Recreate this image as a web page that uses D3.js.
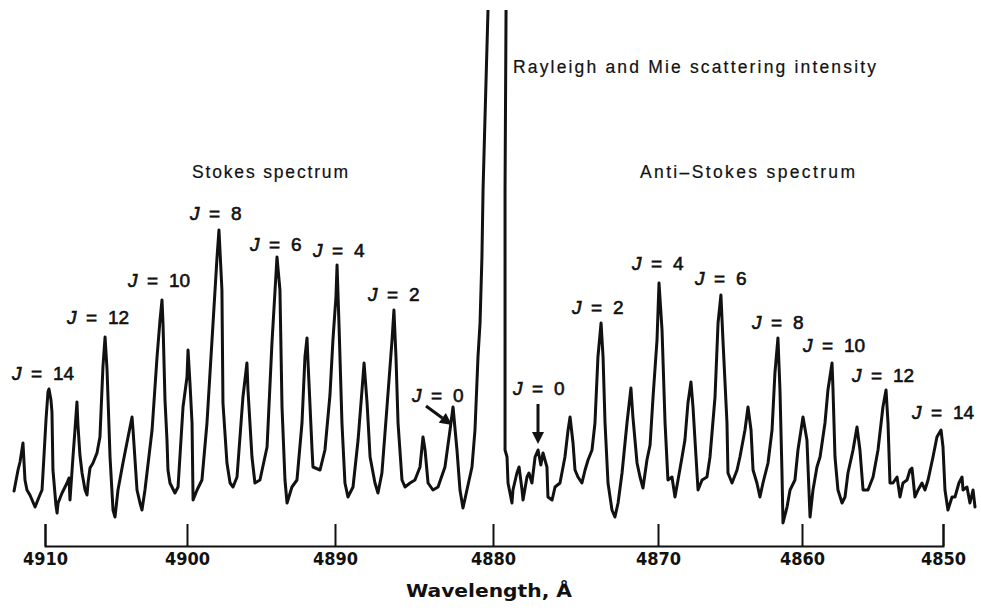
<!DOCTYPE html>
<html>
<head>
<meta charset="utf-8">
<script src="https://cdn.jsdelivr.net/npm/d3@7"></script>
<style>
body { margin: 0; background: #fff; }
svg { display: block; }
.note { font-family: "Liberation Sans", Arial, sans-serif; font-size: 17.5px; fill: #111; stroke: #111; stroke-width: 0.2px; }
.jlab { font-family: "Liberation Sans", Arial, sans-serif; font-size: 19px; fill: #111; stroke: #111; stroke-width: 0.6px; }
.axis text { font-family: "Liberation Sans Narrow", "DejaVu Sans Condensed", sans-serif; font-weight: bold; font-size: 18px; fill: #111; }
.axis path, .axis line { stroke: #111; stroke-width: 2px; }
</style>
</head>
<body>
<svg id="chart" width="981" height="610"></svg>
<script>
'use strict';

// tick wavelengths (Angstrom) on the recorder chart
var tickWavelengths = [4910, 4900, 4890, 4880, 4870, 4860, 4850];

// trace: wavelength (A) and relative intensity
var wavelength = [
    4912.18, 4911.90, 4911.76, 4911.55, 4911.41, 4911.27, 4911.06, 4910.85, 4910.70, 4910.42,
    4910.21, 4910.14, 4909.93, 4909.79, 4909.72, 4909.58, 4909.51, 4909.44, 4909.23, 4909.15,
    4909.08, 4908.80, 4908.45, 4908.31, 4908.24, 4908.03, 4907.89, 4907.75, 4907.68, 4907.54,
    4907.39, 4907.18, 4907.04, 4906.97, 4906.83, 4906.62, 4906.34, 4906.13, 4905.92, 4905.77,
    4905.63, 4905.42, 4905.21, 4905.07, 4904.86, 4904.51, 4904.15, 4903.87, 4903.80, 4903.52,
    4903.31, 4903.17, 4902.96, 4902.46, 4902.11, 4901.90, 4901.76, 4901.69, 4901.55, 4901.41,
    4901.34, 4901.20, 4900.85, 4900.63, 4900.28, 4900.00, 4899.93, 4899.80, 4899.66, 4899.59,
    4899.32, 4898.99, 4898.65, 4898.24, 4897.97, 4897.84, 4897.64, 4897.57, 4897.30, 4897.09,
    4896.89, 4896.62, 4896.22, 4895.95, 4895.88, 4895.61, 4895.41, 4895.07, 4894.59, 4894.26,
    4894.05, 4893.92, 4893.72, 4893.58, 4893.38, 4893.24, 4892.91, 4892.57, 4892.23, 4892.03,
    4891.89, 4891.82, 4891.55, 4891.49, 4891.01, 4890.68, 4890.34, 4890.14, 4889.94, 4889.87,
    4889.75, 4889.56, 4889.37, 4889.18, 4888.86, 4888.54, 4888.29, 4888.16, 4887.97, 4887.78,
    4887.47, 4887.28, 4887.03, 4886.71, 4886.39, 4886.27, 4886.14, 4886.01, 4885.76, 4885.57,
    4885.25, 4884.94, 4884.62, 4884.43, 4884.30, 4884.11, 4883.80, 4883.48, 4883.04, 4882.72,
    4882.53, 4882.28, 4882.09, 4881.90, 4881.65, 4881.33, 4881.14, 4880.95, 4880.82, 4880.70,
    4880.63, 4880.51, 4880.32, 4880.19,
    4879.21, 4879.21, 4879.27, 4879.27, 4879.15, 4879.09, 4878.85, 4878.79, 4878.55, 4878.42,
    4878.24, 4878.18, 4877.94, 4877.82, 4877.64, 4877.45, 4877.27, 4877.10, 4876.97, 4876.73,
    4876.67, 4876.42, 4876.24, 4875.94, 4875.64, 4875.45, 4875.33, 4875.15, 4875.03, 4874.85,
    4874.61, 4874.42, 4874.24, 4874.00, 4873.82, 4873.64, 4873.45, 4873.33, 4873.21, 4873.03,
    4872.79, 4872.61, 4872.42, 4872.18, 4871.88, 4871.64, 4871.52, 4871.27, 4871.09, 4870.91,
    4870.67, 4870.48, 4870.30, 4870.06, 4869.93, 4869.72, 4869.51, 4869.31, 4869.03, 4868.82,
    4868.61, 4868.33, 4868.13, 4867.92, 4867.71, 4867.57, 4867.36, 4867.22, 4866.94, 4866.60,
    4866.39, 4866.04, 4865.83, 4865.63, 4865.49, 4865.21, 4865.14, 4864.86, 4864.51, 4864.31,
    4863.96, 4863.75, 4863.54, 4863.40, 4863.13, 4862.92, 4862.71, 4862.36, 4862.08, 4861.88,
    4861.67, 4861.53, 4861.39, 4861.32, 4861.04, 4860.83, 4860.49, 4860.28, 4859.93, 4859.65,
    4859.43, 4859.22, 4858.94, 4858.72, 4858.37, 4858.16, 4857.87, 4857.80, 4857.66, 4857.45,
    4857.16, 4856.95, 4856.74, 4856.38, 4856.10, 4855.89, 4855.67, 4855.32, 4854.96, 4854.61,
    4854.26, 4854.04, 4853.90, 4853.76, 4853.55, 4853.26, 4853.05, 4852.84, 4852.55, 4852.34,
    4852.20, 4851.99, 4851.77, 4851.49, 4851.28, 4851.06, 4850.71, 4850.43, 4850.14, 4850.00,
    4849.86, 4849.65, 4849.36, 4849.15, 4848.87, 4848.65, 4848.58, 4848.30, 4848.09, 4847.87,
    4847.73
];

var intensity = [
    54, 75, 83, 102, 65, 55, 50, 43, 38, 48,
    55, 72, 125, 153, 156, 145, 133, 75, 40, 32,
    42, 52, 62, 67, 45, 88, 115, 143, 120, 90,
    72, 55, 50, 62, 77, 82, 92, 108, 178, 208,
    175, 88, 35, 28, 55, 82, 108, 128, 115, 55,
    42, 35, 55, 115, 188, 225, 245, 222, 145, 105,
    75, 62, 52, 58, 138, 168, 195, 162, 122, 45,
    55, 65, 122, 222, 288, 315, 255, 142, 82, 62,
    58, 68, 148, 182, 155, 88, 62, 65, 98, 202,
    255, 288, 255, 138, 65, 42, 58, 65, 122, 188,
    207, 182, 95, 78, 75, 95, 150, 205, 248, 280,
    222, 122, 62, 48, 58, 105, 155, 182, 142, 88,
    62, 52, 72, 138, 205, 235, 188, 122, 65, 58,
    62, 65, 78, 108, 95, 62, 55, 58, 78, 115,
    138, 95, 55, 37, 55, 78, 115, 188, 222, 288,
    355, 425, 533, 605,
    605, 533, 355, 95, 88, 62, 42, 55, 72, 78,
    55, 45, 68, 72, 62, 88, 95, 80, 92, 78,
    48, 45, 58, 62, 88, 115, 128, 102, 75, 68,
    62, 75, 85, 95, 122, 188, 222, 188, 122, 62,
    35, 28, 42, 72, 122, 157, 128, 82, 68, 57,
    85, 100, 148, 205, 262, 215, 122, 65, 68, 48,
    65, 88, 105, 142, 163, 138, 88, 55, 65, 68,
    88, 148, 222, 250, 205, 122, 72, 62, 75, 88,
    115, 138, 115, 75, 62, 48, 62, 82, 115, 172,
    207, 155, 72, 22, 38, 55, 65, 95, 128, 105,
    28, 55, 78, 88, 122, 155, 182, 155, 88, 55,
    42, 48, 72, 95, 118, 95, 55, 55, 68, 95,
    138, 155, 122, 62, 62, 68, 48, 62, 65, 75,
    77, 48, 55, 62, 55, 65, 88, 108, 115, 98,
    55, 35, 48, 48, 62, 68, 55, 58, 42, 55,
    38
];

// rotational line labels, Stokes side then anti-Stokes side
var jValues = ['14', '12', '10', '8', '6', '4', '2', '0', '0', '2', '4', '6', '8', '10', '12', '14'];

var notes = ['Stokes spectrum', 'Rayleigh and Mie scattering intensity', 'Anti\u2013Stokes spectrum'];
var xTitle = 'Wavelength, \u00c5';

// ---- layout (pixels) ----
var width = 981, height = 610;
var plotTop = 10, plotBottom = 546;
var tickPx = [45, 187, 335, 493, 658, 802, 943];   // the chart paper is not quite linear
var jPos = [
    [12, 373], [67, 317], [128, 280], [190, 213], [250, 244], [313, 250], [368, 294], [412, 395],
    [513, 388], [572, 307], [632, 263], [695, 278], [752, 322], [803, 345], [852, 375], [912, 412]
];
var notePos = [[192, 178, 156], [513, 73, 363], [640, 178, 215]];
var arrows = [[426, 406, 452, 425], [538, 404, 538, 444]];

var svg = d3.select('#chart');

var x = d3.scaleLinear().domain(tickWavelengths).range(tickPx);
var y = d3.scaleLinear().domain([0, 535]).range([plotBottom - 1, plotTop]);

svg.append('defs').append('clipPath')
    .attr('id', 'plotclip')
  .append('rect')
    .attr('x', 0)
    .attr('y', plotTop)
    .attr('width', width)
    .attr('height', plotBottom - plotTop);

var line = d3.line()
    .x(function(d) { return x(d[0]); })
    .y(function(d) { return y(d[1]); });

svg.append('path')
    .datum(d3.zip(wavelength, intensity))
    .attr('clip-path', 'url(#plotclip)')
    .attr('d', line)
    .attr('fill', 'none')
    .attr('stroke', '#111')
    .attr('stroke-width', 3)
    .attr('stroke-linejoin', 'round')
    .attr('stroke-linecap', 'round');

// axis: ticks stand up from the base line, labels below
var xAxis = d3.axisBottom(x)
    .tickValues(tickWavelengths)
    .tickFormat(d3.format('d'))
    .tickSize(-22)
    .tickPadding(6);

svg.append('g')
    .attr('class', 'axis')
    .attr('transform', 'translate(0,' + plotBottom + ')')
    .call(xAxis);

svg.append('text')
    .attr('class', 'axis-title')
    .attr('x', 406)
    .attr('y', 597)
    .attr('textLength', 166)
    .attr('lengthAdjust', 'spacingAndGlyphs')
    .style('font-family', '"Liberation Sans Narrow", "DejaVu Sans Condensed", sans-serif')
    .style('font-weight', 'bold')
    .style('font-size', '17px')
    .style('fill', '#111')
    .text(xTitle);

// J labels
var jl = svg.selectAll('text.jlab')
    .data(jValues)
  .enter().append('text')
    .attr('class', 'jlab')
    .attr('y', function(d, i) { return jPos[i][1] + 7; });

jl.append('tspan')
    .attr('x', function(d, i) { return jPos[i][0]; })
    .style('font-style', 'italic')
    .text('J');
jl.append('tspan')
    .attr('x', function(d, i) { return jPos[i][0] + 19; })
    .text('=');
jl.append('tspan')
    .attr('x', function(d, i) { return jPos[i][0] + 41; })
    .text(function(d) { return d; });

svg.selectAll('text.note')
    .data(notes)
  .enter().append('text')
    .attr('class', 'note')
    .attr('x', function(d, i) { return notePos[i][0]; })
    .attr('y', function(d, i) { return notePos[i][1]; })
    .attr('textLength', function(d, i) { return notePos[i][2]; })
    .attr('lengthAdjust', 'spacing')
    .text(function(d) { return d; });

// arrows pointing at the J = 0 lines
arrows.forEach(function(a) {
    var ang = Math.atan2(a[3] - a[1], a[2] - a[0]);
    var hl = 12, hw = 6;
    var bx = a[2] - hl * Math.cos(ang), by = a[3] - hl * Math.sin(ang);
    svg.append('line')
        .attr('x1', a[0]).attr('y1', a[1])
        .attr('x2', bx).attr('y2', by)
        .attr('stroke', '#111')
        .attr('stroke-width', 3);
    svg.append('path')
        .attr('d', 'M' + a[2] + ',' + a[3] +
            'L' + (bx + hw * Math.sin(ang)) + ',' + (by - hw * Math.cos(ang)) +
            'L' + (bx - hw * Math.sin(ang)) + ',' + (by + hw * Math.cos(ang)) + 'Z')
        .attr('fill', '#111');
});
</script>
</body>
</html>
